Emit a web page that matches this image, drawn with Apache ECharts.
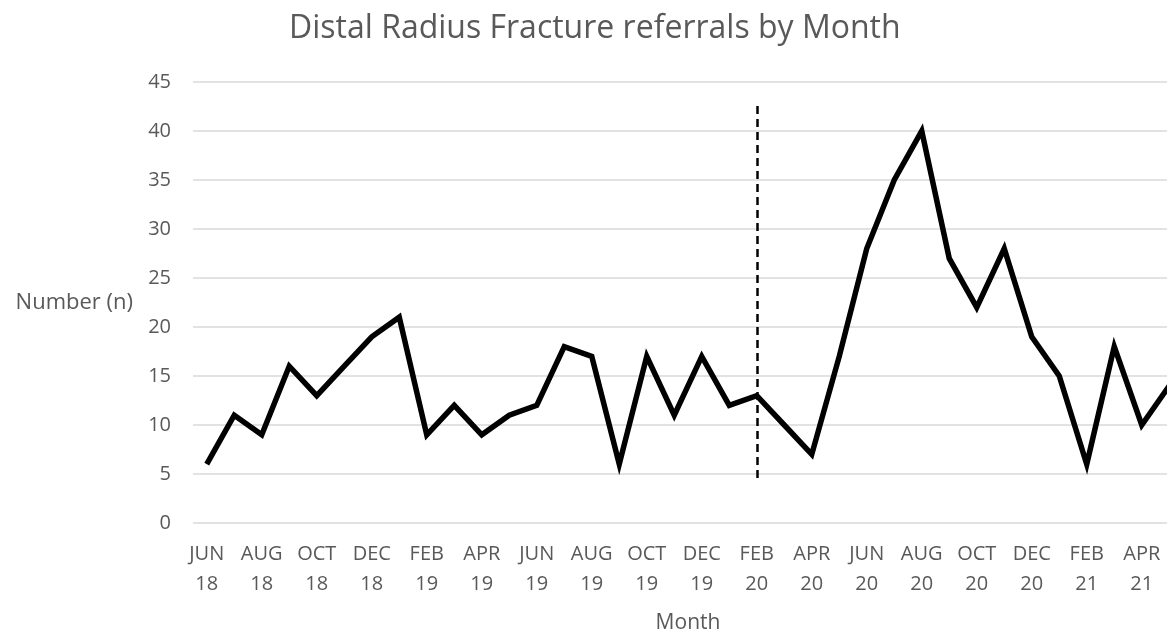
<!DOCTYPE html>
<html>
<head>
<meta charset="utf-8">
<script src="https://cdn.jsdelivr.net/npm/echarts@6/dist/echarts.min.js"></script>
<style>
  html, body { margin: 0; padding: 0; background: #fff; }
  #chart { width: 1167px; height: 632px; }
</style>
</head>
<body>
<div id="chart"></div>
<script>
const months = [
  'JUN\n18', 'JUL\n18', 'AUG\n18', 'SEP\n18', 'OCT\n18', 'NOV\n18', 'DEC\n18',
  'JAN\n19', 'FEB\n19', 'MAR\n19', 'APR\n19', 'MAY\n19', 'JUN\n19', 'JUL\n19',
  'AUG\n19', 'SEP\n19', 'OCT\n19', 'NOV\n19', 'DEC\n19', 'JAN\n20', 'FEB\n20',
  'MAR\n20', 'APR\n20', 'MAY\n20', 'JUN\n20', 'JUL\n20', 'AUG\n20', 'SEP\n20',
  'OCT\n20', 'NOV\n20', 'DEC\n20', 'JAN\n21', 'FEB\n21', 'MAR\n21', 'APR\n21', 'MAY\n21'
];
const referrals = [
  6, 11, 9, 16, 13, 16, 19,
  21, 9, 12, 9, 11, 12, 18,
  17, 6, 17, 11, 17, 12, 13,
  10, 7, 17, 28, 35, 40, 27,
  22, 28, 19, 15, 6, 18, 10, 14
];
// dashed marker at the start of the pandemic period
const markerMonth = 'FEB\n20';
const markerRange = [4.6, 43];

const textColor = '#595959';
const font = '"Open Sans", "Noto Sans", sans-serif';

const chart = echarts.init(document.getElementById('chart'));
chart.setOption({
  animation: false,
  title: {
    text: 'Distal Radius Fracture referrals by Month',
    left: 284,
    top: 8,
    textStyle: { color: textColor, fontSize: 32, fontWeight: 'normal', fontFamily: font }
  },
  // plot runs past the right edge of the page, as in the original
  grid: { left: 193, top: 82, width: 990, height: 441, outerBoundsMode: 'none', containLabel: false },
  xAxis: {
    type: 'category',
    data: months,
    boundaryGap: true,
    axisLine: { show: false },
    axisTick: { show: false },
    axisLabel: {
      interval: 1,
      color: textColor,
      fontSize: 20,
      fontFamily: font,
      lineHeight: 30,
      margin: 16
    },
    name: 'Month',
    nameLocation: 'middle',
    nameGap: 90,
    nameTextStyle: { color: textColor, fontSize: 21, fontFamily: font }
  },
  yAxis: {
    type: 'value',
    min: 0,
    max: 45,
    interval: 5,
    axisLine: { show: false },
    axisTick: { show: false },
    splitLine: { lineStyle: { color: '#d9d9d9', width: 1.5 } },
    axisLabel: { color: textColor, fontSize: 20, fontFamily: font, margin: 22 },
    name: 'Number (n)',
    nameLocation: 'middle',
    nameRotate: 0,
    nameGap: 60,
    nameTextStyle: { color: textColor, fontSize: 22, fontFamily: font }
  },
  series: [{
    type: 'line',
    data: referrals,
    symbol: 'none',
    lineStyle: { color: '#000', width: 5.5, join: 'miter' },
    markLine: {
      silent: true,
      symbol: ['none', 'none'],
      label: { show: false },
      lineStyle: { color: '#000', type: [8, 5], width: 2.5 },
      data: [[
        { coord: [markerMonth, markerRange[0]] },
        { coord: [markerMonth, markerRange[1]] }
      ]]
    }
  }]
});
</script>
</body>
</html>
